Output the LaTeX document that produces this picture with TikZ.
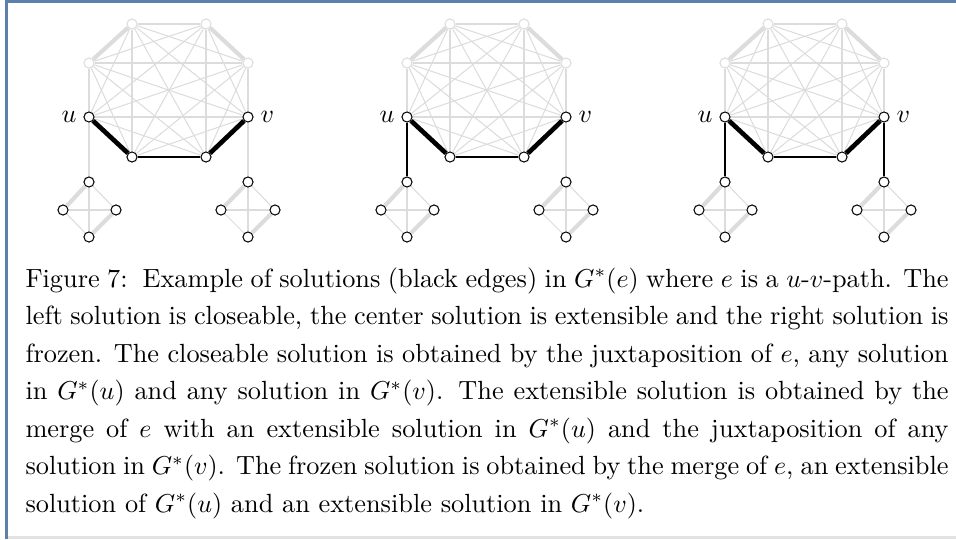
\documentclass[tikz,border=0pt]{standalone}
\usepackage{xcolor}
\usepackage{tikz}
\usetikzlibrary{positioning,calc}

\definecolor{framebl}{HTML}{5C80AA}
\definecolor{edgegr}{HTML}{DCDCDC}
\definecolor{bottomgr}{HTML}{E3E3E3}

\tikzset{
  vtx/.style={circle, draw=black, fill=white, line width=0.4pt, minimum size=3.9pt, inner sep=0pt},
  gvtx/.style={vtx, draw=edgegr},
  gedge/.style={draw=edgegr, line width=0.4pt},
  gthick/.style={draw=edgegr, line width=1.6pt},
  sedge/.style={draw=black, line width=0.8pt},
  sthick/.style={draw=black, line width=1.8pt},
}

\begin{document}
\begin{tikzpicture}[x=0.386pt, y=-0.386pt]
\useasboundingbox (0,0) rectangle (956,539);

% Frame of the figure
\draw[bottomgr, line width=0.8pt] (7,537.5) -- (956,537.5);
\draw[framebl, line width=0.8pt] (6.5,539) -- (6.5,1.5) -- (956,1.5);

% Three solutions, left to right
\foreach \p/\ox/\lu/\lv in {1/0/gedge/gedge, 2/318/sedge/gedge, 3/636/sedge/sedge} {
\begin{scope}[shift={(\ox,0)}]
  % K8 on the path e
  \node[gvtx] (o\p-1) at (132,24) {};
  \node[gvtx] (o\p-2) at (206,24) {};
  \node[gvtx] (o\p-3) at (248,63) {};
  \node[vtx]  (o\p-4) at (248,117) {};
  \node[vtx]  (o\p-5) at (206,157) {};
  \node[vtx]  (o\p-6) at (132,157) {};
  \node[vtx]  (o\p-7) at (89,117) {};
  \node[gvtx] (o\p-8) at (89,63) {};
  \foreach \i in {1,...,7} {
    \pgfmathtruncatemacro{\k}{\i+1}
    \foreach \j in {\k,...,8}
      \draw[gedge] (o\p-\i) -- (o\p-\j);
  }
  \draw[gthick] (o\p-1) -- (o\p-8);
  \draw[gthick] (o\p-2) -- (o\p-3);
  \draw[sthick] (o\p-7) -- (o\p-6);
  \draw[sedge]  (o\p-6) -- (o\p-5);
  \draw[sthick] (o\p-5) -- (o\p-4);

  % G*(u) and G*(v)
  \node[vtx] (l\p-1) at (89,182) {};
  \node[vtx] (l\p-2) at (63,210) {};
  \node[vtx] (l\p-3) at (116,210) {};
  \node[vtx] (l\p-4) at (89,237) {};
  \node[vtx] (r\p-1) at (248,182) {};
  \node[vtx] (r\p-2) at (221,210) {};
  \node[vtx] (r\p-3) at (275,210) {};
  \node[vtx] (r\p-4) at (248,237) {};
  \foreach \s in {l,r} {
    \draw[gedge] (\s\p-1) -- (\s\p-3);
    \draw[gedge] (\s\p-2) -- (\s\p-4);
    \draw[gedge] (\s\p-2) -- (\s\p-3);
    \draw[gedge] (\s\p-1) -- (\s\p-4);
    \draw[gthick] (\s\p-1) -- (\s\p-2);
    \draw[gthick] (\s\p-3) -- (\s\p-4);
  }
  \draw[\lu] (o\p-7) -- (l\p-1);
  \draw[\lv] (o\p-4) -- (r\p-1);

  % labels
  \node[left=2.5pt of o\p-7, inner sep=0pt] (lab\p-u) {$u$};
  \node[right=2.5pt of o\p-4, inner sep=0pt] (lab\p-v) {$v$};
\end{scope}
}

% Caption
\node[anchor=north west, inner sep=0pt, text width=356.3pt, align=justify,
      font=\fontsize{10.15}{14.48}\selectfont] (cap) at (25,267)
  {Figure 7:\ \ Example of solutions (black edges) in $G^*(e)$ where $e$ is a $u$-$v$-path. The\linebreak
  left solution is closeable, the center solution is extensible and the right solution is\linebreak
  frozen. The closeable solution is obtained by the juxtaposition of $e$, any solution\linebreak
  in $G^*(u)$ and any solution in $G^*(v)$. The extensible solution is obtained by the\linebreak
  merge of $e$ with an extensible solution in $G^*(u)$ and the juxtaposition of any\linebreak
  solution in $G^*(v)$. The frozen solution is obtained by the merge of $e$, an extensible\linebreak
  solution of $G^*(u)$ and an extensible solution in $G^*(v)$.};
\end{tikzpicture}
\end{document}
